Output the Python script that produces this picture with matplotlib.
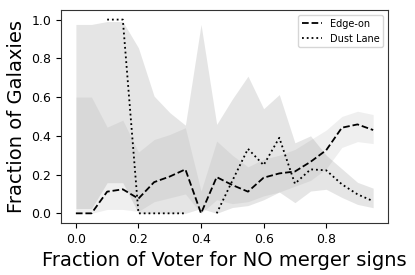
import numpy as np
import matplotlib
matplotlib.use("Agg")
import matplotlib.pyplot as plt

nan = np.nan

# fraction of voters (bin centres)
vote_frac = [0.0, 0.05, 0.1, 0.15, 0.2, 0.25, 0.3, 0.35, 0.4, 0.45,
             0.5, 0.55, 0.6, 0.65, 0.7, 0.75, 0.8, 0.85, 0.9, 0.95]

# edge-on fraction and its interval
edge_on = [0.0, 0.0, 0.112, 0.124, 0.076, 0.161, 0.19, 0.227, 0.0, 0.187,
           0.146, 0.112, 0.184, 0.206, 0.216, 0.266, 0.326, 0.442, 0.459, 0.43]
edge_on_lo = [0.0, 0.0, 0.02, 0.02, 0.01, 0.06, 0.08, 0.10, 0.0, 0.07,
              0.05, 0.06, 0.09, 0.11, 0.14, 0.17, 0.23, 0.34, 0.37, 0.36]
edge_on_hi = [0.6, 0.6, 0.445, 0.481, 0.316, 0.381, 0.407, 0.442, 0.115, 0.373,
              0.30, 0.24, 0.28, 0.30, 0.33, 0.38, 0.43, 0.50, 0.527, 0.51]

# dust lane fraction and its interval
dust_lane = [nan, nan, 1.0, 1.0, 0.0, 0.0, 0.0, 0.0, nan, 0.0,
             0.168, 0.333, 0.249, 0.39, 0.153, 0.227, 0.222, 0.15, 0.098, 0.063]
dust_lane_lo = [0.025, 0.025, 0.158, 0.158, 0.0, 0.0, 0.0, 0.0, 0.025, 0.0,
                0.03, 0.04, 0.07, 0.11, 0.055, 0.115, 0.124, 0.082, 0.046, 0.029]
dust_lane_hi = [0.975, 0.975, 0.99, 0.99, 0.854, 0.605, 0.52, 0.455, 0.975, 0.459,
                0.59, 0.708, 0.54, 0.613, 0.364, 0.40, 0.30, 0.23, 0.16, 0.13]

fig = plt.figure(figsize=(4.15, 2.75), dpi=100)
ax = fig.add_axes([0.147, 0.189, 0.788, 0.775])

ax.fill_between(vote_frac, dust_lane_lo, dust_lane_hi, color="gray", alpha=0.2, lw=0)
ax.fill_between(vote_frac, edge_on_lo, edge_on_hi, color="gray", alpha=0.12, lw=0)

ax.plot(vote_frac, edge_on, "k--", lw=1.3, label="Edge-on")
ax.plot(vote_frac, dust_lane, "k:", lw=1.3, label="Dust Lane")

ax.set_xticks([0.0, 0.2, 0.4, 0.6, 0.8])
ax.set_yticks([0.0, 0.2, 0.4, 0.6, 0.8, 1.0])
ax.tick_params(labelsize=9)
for sp in ax.spines.values():
    sp.set_color("#333333")
ax.set_xlabel("Fraction of Voter for NO merger signs", fontsize=14)
ax.set_ylabel("Fraction of Galaxies", fontsize=14)
ax.legend(loc="upper right", fontsize=7)

fig.savefig("out.png", dpi=100)
